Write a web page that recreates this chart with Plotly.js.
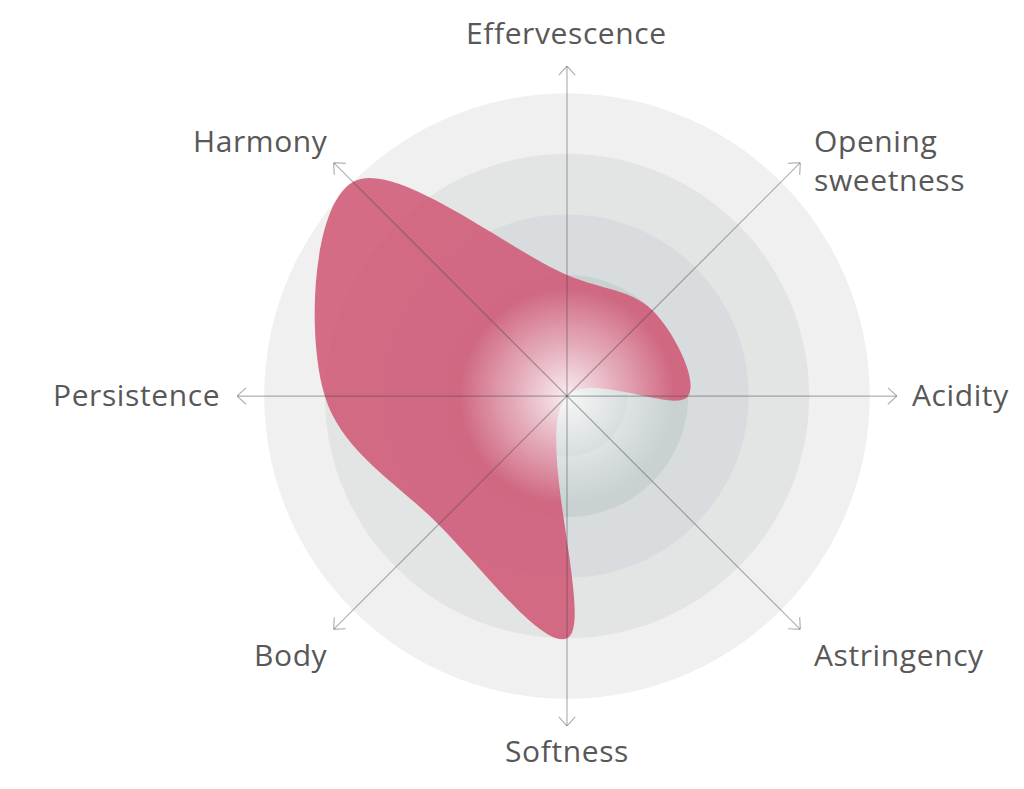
<!DOCTYPE html>
<html>
<head>
<meta charset="utf-8">
<script src="https://cdn.plot.ly/plotly-3.0.1.min.js"></script>
<style>
  html, body { margin: 0; padding: 0; background: #ffffff; }
  #chart { width: 1024px; height: 789px; }
  text.annotation-text { letter-spacing: 0.6px; }
</style>
</head>
<body>
<div id="chart"></div>
<script>
// ---- data ----
const categories = ['Effervescence', 'Opening<br>sweetness', 'Acidity', 'Astringency', 'Softness', 'Body', 'Persistence', 'Harmony'];
const scores = [2, 2, 2, 0, 4, 3, 4, 5];
const ringLevels = [5, 4, 3, 2, 1];
const ringColors = ['#f0f0f0', '#e3e4e4', '#d8dcdf', '#c9d1d3', '#bfc8c8'];
const axisMax = 5.45;

// ---- geometry of the polar area (pixels) ----
const W = 1024, H = 789;
const domX = [0.2314, 0.8760], domY = [0.0798, 0.9163];
const cxP = (domX[0] + domX[1]) / 2, cyP = (domY[0] + domY[1]) / 2;
const radPx = (domX[1] - domX[0]) * W / 2;

// ---- derived ----
const n = categories.length;
const angles = categories.map((_, i) => i * 360 / n);
const circleTheta = [];
for (let t = 0; t <= 360; t += 3) circleTheta.push(t);

const traces = [];

// background rings (outer to inner)
ringLevels.forEach((lvl, i) => {
  traces.push({
    type: 'scatterpolar', mode: 'lines',
    r: circleTheta.map(() => lvl), theta: circleTheta,
    fill: 'toself', fillcolor: ringColors[i],
    line: { width: 0, color: ringColors[i] },
    hoverinfo: 'skip', showlegend: false
  });
});

// the profile shape
traces.push({
  type: 'scatterpolar', mode: 'lines',
  r: scores.concat([scores[0]]),
  theta: angles.concat([angles[0]]),
  fill: 'toself', fillcolor: 'rgba(208,86,117,0.86)',
  line: { shape: 'spline', smoothing: 1.05, width: 0, color: 'rgba(208,86,117,0.86)' },
  hoverinfo: 'skip', showlegend: false
});

// central glow: one marker at the origin with a radial white gradient
// (for radial gradients, gradient.color is the centre colour)
traces.push({
  type: 'scatterpolar', mode: 'markers',
  r: [0], theta: [0],
  marker: {
    size: 215, symbol: 'circle',
    color: 'rgba(255,255,255,0)',
    line: { width: 0 },
    gradient: { type: 'radial', color: 'rgba(255,255,255,0.88)' }
  },
  hoverinfo: 'skip', showlegend: false, cliponaxis: false
});

// axis lines with open arrowheads
const back = 0.15, side = 0.135;
const wingR = Math.sqrt((axisMax - back) ** 2 + side ** 2);
const wingDT = Math.atan2(side, axisMax - back) * 180 / Math.PI;
const axR = [], axT = [];
angles.forEach(a => {
  axR.push(0, axisMax, null, wingR, axisMax, wingR, null);
  axT.push(a, a, null, a - wingDT, a, a + wingDT, null);
});
traces.push({
  type: 'scatterpolar', mode: 'lines',
  r: axR, theta: axT, connectgaps: false,
  line: { width: 1.2, color: 'rgba(70,70,70,0.42)' },
  hoverinfo: 'skip', showlegend: false, cliponaxis: false
});

// category labels placed just beyond the arrow tips
const fontSize = 30, lineH = fontSize * 1.3;
function labelOffset(s, c) {
  let dx = 0;
  if (Math.abs(s) >= 0.1) {
    const horiz = Math.abs(c) < 0.1;
    dx = s > 0 ? (horiz ? 13 : 12) : (horiz ? -15 : -4);
  }
  let dy = -2; // screen px, positive = down
  if (c > 0.9) dy += -32; else if (c > 0.1) dy += -20;
  else if (c < -0.9) dy += 26; else if (c < -0.1) dy += 27;
  return [dx, dy];
}
const annotations = categories.map((txt, i) => {
  const a = angles[i] * Math.PI / 180;
  const s = Math.sin(a), c = Math.cos(a);
  const [dx, dy] = labelOffset(s, c);
  const px = radPx * s + dx, py = radPx * c - dy;
  const xanchor = Math.abs(s) < 0.1 ? 'center' : (s > 0 ? 'left' : 'right');
  const nLines = txt.split('<br>').length;
  return {
    xref: 'paper', yref: 'paper',
    x: cxP + px / W, y: cyP + py / H,
    xanchor, yanchor: 'middle', yshift: -(nLines - 1) * lineH / 2,
    align: 'left', text: txt, showarrow: false,
    font: { family: 'Open Sans, sans-serif', size: fontSize, color: '#585858' }
  };
});

const layout = {
  width: W, height: H,
  margin: { l: 0, r: 0, t: 0, b: 0 },
  paper_bgcolor: '#ffffff',
  showlegend: false,
  annotations,
  polar: {
    domain: { x: domX, y: domY },
    bgcolor: 'rgba(0,0,0,0)',
    radialaxis: { range: [0, axisMax], visible: false },
    angularaxis: {
      rotation: 90, direction: 'clockwise',
      tickmode: 'array', tickvals: angles, ticktext: angles.map(() => ''),
      showgrid: false, showline: false, ticks: ''
    }
  }
};

Plotly.newPlot('chart', traces, layout, { displayModeBar: false, staticPlot: true });
</script>
</body>
</html>
